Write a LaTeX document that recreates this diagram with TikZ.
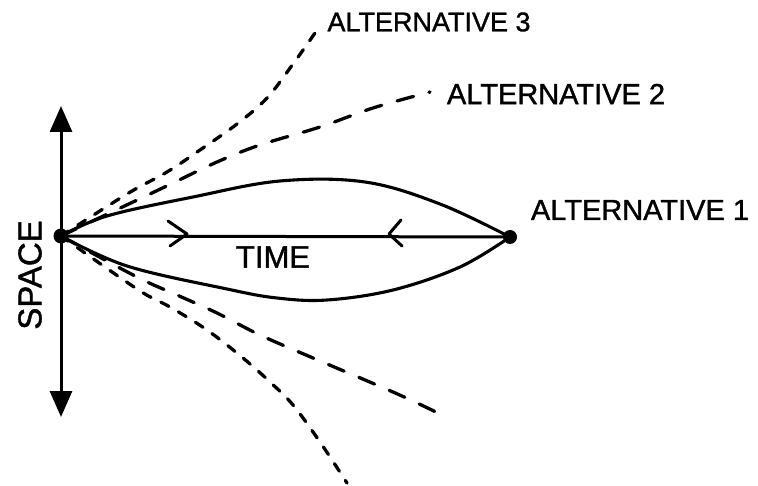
\documentclass[tikz,border=0pt]{standalone}
\usepackage{fontspec}
\setmainfont{Liberation Sans}[FakeBold=1.2,AutoFakeBold=1.2]
\usetikzlibrary{arrows.meta,decorations.markings}
\begin{document}
\begin{tikzpicture}[x=1pt,y=-1pt,
  dot/.style={circle,fill=black,inner sep=0pt,minimum size=14pt},
  solidline/.style={line width=3.1pt,line cap=round,line join=round},
  shortdash/.style={line width=3.3pt,line cap=round,dash pattern=on 9pt off 11pt},
  longdash/.style={line width=3.3pt,line cap=round,dash pattern=on 17pt off 16pt},
  lbl/.style={inner sep=0pt,font=\fontsize{28}{28}\selectfont\bfseries},
  chev/.style={line width=3pt,line cap=round,line join=round}]
\useasboundingbox (0,0) rectangle (758,486);
% points
\node[dot,minimum size=15pt] (O) at (61,236) {};
\node[dot] (E) at (510,237) {};
\coordinate (top) at (61,106);
\coordinate (bot) at (61,417);
% space axis
\draw[line width=3pt,{Triangle[length=26pt,width=22pt]}-{Triangle[length=26pt,width=22pt]}] (bot) -- (top);
% time line
\draw[line width=3pt] (O.center) -- (E.center);
\draw[chev] (168,221) -- (187,234) -- (170,246);
\draw[chev] (401,220) -- (389,234) -- (402,246);
% alternative 1 curves
\draw[solidline] plot[smooth,tension=0.6] coordinates {(O.center) (107,216) (193,197) (280,181) (365,182) (440,204) (E.center)};
\draw[solidline] plot[smooth,tension=0.6] coordinates {(O.center) (127,266) (227,289) (277,298) (327,300) (393,290) (460,267) (E.center)};
% alternative 2
\draw[longdash] plot[smooth,tension=0.6] coordinates {(O.center) (133,202) (173,183) (217,162) (260,145) (320,127) (373,108) (430,92)};
% alternative 3
\draw[shortdash] plot[smooth,tension=0.6] coordinates {(O.center) (127,194) (167,172) (200,150) (237,124) (267,98) (293,64) (315,33)};
% lower alternatives
\draw[longdash] plot[smooth,tension=0.6] coordinates {(O.center) (137,277) (177,295) (217,313) (260,335) (313,358) (393,392) (438,413)};
\draw[shortdash] plot[smooth,tension=0.6] coordinates {(O.center) (137,289) (170,307) (207,330) (243,358) (270,382) (293,405) (320,442) (347,483)};
% labels
\node[lbl,font=\fontsize{27}{27}\selectfont\bfseries] (a3) at (429,22) {ALTERNATIVE 3};
\node[lbl,font=\fontsize{29}{29}\selectfont\bfseries] (a2) at (556,94) {ALTERNATIVE 2};
\node[lbl,font=\fontsize{29}{29}\selectfont\bfseries] (a1) at (640,210) {ALTERNATIVE 1};
\node[lbl,font=\fontsize{31}{31}\selectfont\bfseries] (time) at (273,257) {TIME};
\node[lbl,font=\fontsize{33}{33}\selectfont\bfseries,rotate=90] (space) at (30,275) {SPACE};
\end{tikzpicture}
\end{document}
